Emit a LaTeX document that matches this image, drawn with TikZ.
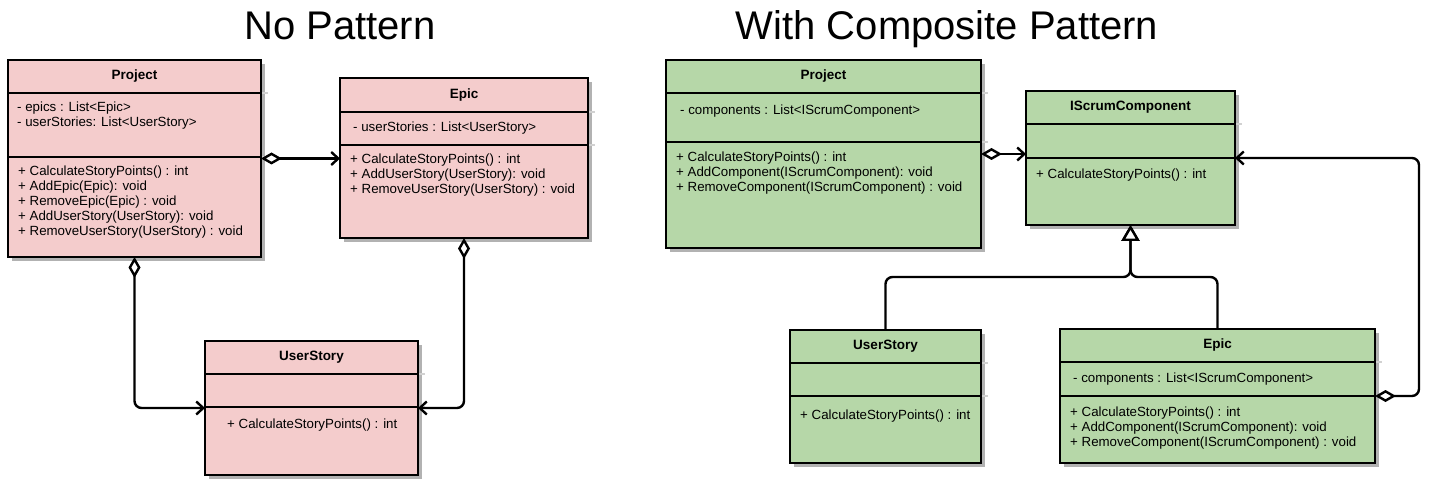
\documentclass[tikz,border=0pt]{standalone}
\usepackage{fontspec}
\setmainfont{Liberation Sans}
\usetikzlibrary{arrows.meta}
\definecolor{pinkc}{HTML}{F4CCCC}
\definecolor{greenc}{HTML}{B6D7A8}
\tikzset{
  box/.style={draw=black, line width=2.8pt, inner sep=0pt, outer sep=0pt, anchor=north west},
  shade/.style={fill=black!30},
  ext/.style={draw=black!18, line width=1.2pt},
  divl/.style={draw=black, line width=2.8pt},
  ttl/.style={font=\fontsize{13.5}{16}\selectfont\bfseries, inner sep=0pt},
  txt/.style={font=\fontsize{13.3}{15}\selectfont, align=left, inner sep=0pt, anchor=north west, execute at begin node=\strut},
  headline/.style={font=\fontsize{40}{46}\selectfont, inner sep=0pt, anchor=base},
  conn/.style={line width=2.4pt, rounded corners=7pt},
  agg/.style={{Diamond[fill=white,length=21pt,width=12pt]}-{Straight Barb[length=7pt,width=13pt]}},
  gen/.style={-{Triangle[fill=white,length=16pt,width=18pt]}},
}
\newcommand{\umlclass}[9]{%
  \fill[shade] (#2+4,#3+4) rectangle (#4+4,#5+4);
  \draw[ext] (#4,#6) -- (#4+7,#6);
  \draw[ext] (#4,#7) -- (#4+7,#7);
  \node[box, fill=#8, minimum width={(#4-#2)*1pt}, minimum height={(#5-#3)*1pt}] (#1) at (#2,#3) {};
  \draw[divl] (#2,#6) -- (#4,#6);
  \draw[divl] (#2,#7) -- (#4,#7);
  \node[ttl] (#1-t) at ({(#2+#4)/2},{(#3+#6)/2}) {#9};
}
\begin{document}
\begin{tikzpicture}[x=1pt,y=-1pt]
\useasboundingbox (0,0) rectangle (1438,486);
% titles
\node[headline] (h1) at (340,40) {No Pattern};
\node[headline] (h2) at (947,40) {With Composite Pattern};

% ---------- left: no pattern ----------
\umlclass{lp}{8}{60}{261}{257}{93}{157}{pinkc}{Project}
\node[txt] (lp-a) at (17,101.5) {- epics : List<Epic>\\- userStories: List<UserStory>};
\node[txt] (lp-m) at (18,166) {+ CalculateStoryPoints() : int\\+ AddEpic(Epic): void\\+ RemoveEpic(Epic) : void\\+ AddUserStory(UserStory): void\\+ RemoveUserStory(UserStory) : void};

\umlclass{ep}{340}{78}{588}{238}{112}{145}{pinkc}{Epic}
\node[txt] (ep-a) at (353,120.5) {- userStories : List<UserStory>};
\node[txt] (ep-m) at (350,153.5) {+ CalculateStoryPoints() : int\\+ AddUserStory(UserStory): void\\+ RemoveUserStory(UserStory) : void};

\umlclass{us}{205}{341}{418}{475}{374}{407}{pinkc}{UserStory}
\node[txt] (us-m) at (227,417.5) {+ CalculateStoryPoints() : int};

\draw[conn, agg] (lp.east) -- (lp.east -| ep.west);
\draw[conn, agg] (lp.south) |- (us.west);
\draw[conn, agg] (ep.south) |- (us.east);

% ---------- right: composite pattern ----------
\umlclass{rp}{666}{60}{981}{248}{93}{142}{greenc}{Project}
\node[txt] (rp-a) at (680,103.5) {- components : List<IScrumComponent>};
\node[txt] (rp-m) at (676,151.5) {+ CalculateStoryPoints() : int\\+ AddComponent(IScrumComponent): void\\+ RemoveComponent(IScrumComponent) : void};

\umlclass{is}{1026}{91}{1235}{225}{124}{158}{greenc}{IScrumComponent}
\node[txt] (is-m) at (1036,167.5) {+ CalculateStoryPoints() : int};

\umlclass{usr}{790}{330}{981}{463}{363}{396}{greenc}{UserStory}
\node[txt] (usr-m) at (800,408.5) {+ CalculateStoryPoints() : int};

\umlclass{er}{1060}{329}{1375}{463}{362}{396}{greenc}{Epic}
\node[txt] (er-a) at (1073,371.5) {- components : List<IScrumComponent>};
\node[txt] (er-m) at (1070,406.5) {+ CalculateStoryPoints() : int\\+ AddComponent(IScrumComponent): void\\+ RemoveComponent(IScrumComponent) : void};

\coordinate (jn) at (1130.5,277);
\coordinate (er-up) at (1419,396);
\draw[conn, agg] (rp.east) -- (rp.east -| is.west);
\draw[conn, agg] (er.east) -- (er-up) |- (is.east);
\draw[conn, gen] (usr.north) |- (jn) -- (is.south);
\draw[conn, gen] (er.north) |- (jn) -- (is.south);
\end{tikzpicture}
\end{document}
